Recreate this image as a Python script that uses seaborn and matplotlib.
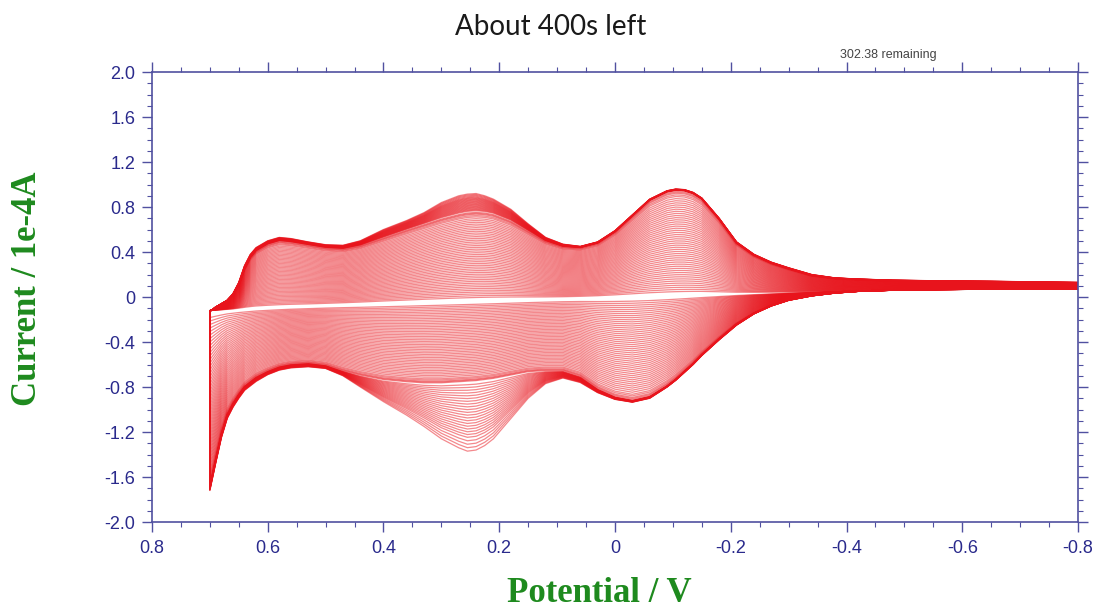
import numpy as np
import pandas as pd
import matplotlib
matplotlib.use("Agg")
import matplotlib.pyplot as plt
import seaborn as sns
from matplotlib.ticker import FixedLocator, FixedFormatter, MultipleLocator

# ---------------- data ----------------
potential = [0.700, 0.695, 0.690, 0.680, 0.670, 0.660, 0.650, 0.640, 0.630, 0.620,
             0.600, 0.580, 0.560, 0.530, 0.500, 0.470, 0.440, 0.400, 0.360, 0.330,
             0.300, 0.270, 0.255, 0.240, 0.225, 0.210, 0.180, 0.150, 0.120, 0.090,
             0.060, 0.030, 0.000, -0.030, -0.060, -0.090, -0.105, -0.120, -0.135, -0.150,
             -0.180, -0.210, -0.240, -0.270, -0.300, -0.340, -0.380, -0.420, -0.480, -0.550,
             -0.650, -0.800]

# innermost (almost flat) cycle: the white gap line
base_current = [-0.120, -0.119, -0.118, -0.116, -0.113, -0.111, -0.108, -0.106, -0.103, -0.100,
                -0.096, -0.092, -0.088, -0.083, -0.077, -0.071, -0.066, -0.059, -0.053, -0.048,
                -0.044, -0.040, -0.038, -0.036, -0.034, -0.032, -0.028, -0.024, -0.020, -0.016,
                -0.012, -0.008, -0.004, 0.000, 0.004, 0.008, 0.010, 0.012, 0.014, 0.016,
                0.020, 0.024, 0.028, 0.032, 0.036, 0.042, 0.048, 0.054, 0.063, 0.073,
                0.088, 0.107]

# outermost cycle, upper branch
upper_outer = [-0.125, -0.11, -0.09, -0.06, -0.03, 0.03, 0.13, 0.28, 0.38, 0.44,
               0.50, 0.53, 0.52, 0.49, 0.465, 0.46, 0.50, 0.60, 0.68, 0.75,
               0.84, 0.90, 0.915, 0.92, 0.90, 0.87, 0.78, 0.65, 0.53, 0.47,
               0.45, 0.49, 0.59, 0.73, 0.87, 0.945, 0.96, 0.955, 0.93, 0.88,
               0.70, 0.49, 0.38, 0.31, 0.26, 0.20, 0.17, 0.16, 0.15, 0.145,
               0.14, 0.13]

# edge of the dense band (most cycles), upper branch
upper_mid = [-0.125, -0.11, -0.09, -0.06, -0.03, 0.02, 0.11, 0.25, 0.35, 0.41,
             0.47, 0.50, 0.49, 0.465, 0.44, 0.43, 0.46, 0.53, 0.60, 0.65,
             0.70, 0.74, 0.755, 0.76, 0.755, 0.74, 0.68, 0.59, 0.50, 0.45,
             0.44, 0.48, 0.58, 0.72, 0.86, 0.935, 0.95, 0.945, 0.92, 0.87,
             0.69, 0.48, 0.37, 0.30, 0.25, 0.19, 0.165, 0.155, 0.145, 0.14,
             0.135, 0.125]

# outermost cycle, lower branch
lower_outer = [-1.72, -1.60, -1.48, -1.25, -1.08, -0.98, -0.90, -0.83, -0.79, -0.75,
               -0.69, -0.65, -0.63, -0.62, -0.635, -0.70, -0.80, -0.93, -1.05, -1.15,
               -1.26, -1.34, -1.37, -1.36, -1.32, -1.26, -1.08, -0.90, -0.77, -0.72,
               -0.76, -0.85, -0.91, -0.935, -0.90, -0.80, -0.74, -0.67, -0.60, -0.52,
               -0.38, -0.25, -0.15, -0.08, -0.03, 0.01, 0.035, 0.05, 0.06, 0.065,
               0.07, 0.07]

# edge of the dense band (most cycles), lower branch
lower_mid = [-1.68, -1.56, -1.44, -1.21, -1.04, -0.94, -0.86, -0.79, -0.75, -0.71,
             -0.66, -0.62, -0.60, -0.59, -0.61, -0.66, -0.70, -0.74, -0.76, -0.77,
             -0.77, -0.76, -0.755, -0.75, -0.74, -0.73, -0.70, -0.67, -0.66, -0.66,
             -0.71, -0.82, -0.89, -0.92, -0.885, -0.79, -0.73, -0.66, -0.59, -0.51,
             -0.37, -0.24, -0.145, -0.075, -0.025, 0.012, 0.036, 0.051, 0.061, 0.066,
             0.071, 0.071]

# growth of every recorded cycle: share of the dense band, share of the late growth
cycle_growth = [0.04, 0.06, 0.08, 0.10, 0.12, 0.14, 0.16, 0.18, 0.20,
                0.22, 0.24, 0.26, 0.28, 0.30, 0.32, 0.34, 0.36, 0.38, 0.40,
                0.42, 0.44, 0.46, 0.48, 0.50, 0.52, 0.54, 0.56, 0.58, 0.60,
                0.62, 0.64, 0.66, 0.68, 0.70, 0.72, 0.74, 0.76, 0.78, 0.80,
                0.82, 0.84, 0.86, 0.88, 0.90, 0.92, 0.94, 0.955, 0.97, 0.98,
                0.99,
                1.0, 1.0, 1.0, 1.0, 1.0, 1.0, 1.0, 1.0, 1.0, 1.0,
                1.0, 1.0, 1.0, 1.0, 1.0, 1.0, 1.0, 1.0, 1.0, 1.0,
                1.0, 1.0, 1.0, 1.0]
cycle_late = [0.0] * 50 + [0.04, 0.08, 0.12, 0.16, 0.20, 0.24, 0.28, 0.32, 0.36, 0.40,
                           0.44, 0.48, 0.52, 0.56, 0.60, 0.64, 0.68, 0.72, 0.76, 0.80,
                           0.85, 0.90, 0.95, 1.00]

x_ticks = [0.8, 0.6, 0.4, 0.2, 0.0, -0.2, -0.4, -0.6, -0.8]
x_tick_labels = ["0.8", "0.6", "0.4", "0.2", "0", "-0.2", "-0.4", "-0.6", "-0.8"]
y_ticks = [2.0, 1.6, 1.2, 0.8, 0.4, 0.0, -0.4, -0.8, -1.2, -1.6, -2.0]
y_tick_labels = ["2.0", "1.6", "1.2", "0.8", "0.4", "0", "-0.4", "-0.8", "-1.2", "-1.6", "-2.0"]

title_text = "About 400s left"
status_text = "302.38 remaining"
x_label = "Potential / V"
y_label = "Current / 1e-4A"

# ---------------- build table ----------------
E = np.array(potential)
base = np.array(base_current)
uo, um = np.array(upper_outer), np.array(upper_mid)
lo, lm = np.array(lower_outer), np.array(lower_mid)
rows = []
for k, (f, h) in enumerate(zip(cycle_growth, cycle_late)):
    up = base + f * (um - base) + h * (uo - um)
    dn = base + f * (lm - base) + h * (lo - lm)
    e_loop = np.concatenate([E, E[::-1], E[:1]])
    i_loop = np.concatenate([up, dn[::-1], up[:1]])
    for j, (e, i) in enumerate(zip(e_loop, i_loop)):
        rows.append((k, j, e, i))
df = pd.DataFrame(rows, columns=["cycle", "step", "E", "I"])

# ---------------- draw ----------------
sns.set_style("white")
plt.rcParams["font.family"] = ["Liberation Sans", "DejaVu Sans"]

fig = plt.figure(figsize=(10.98, 6.14), dpi=100)
ax = fig.add_axes([0.1384, 0.1498, 0.8434, 0.7329])

sns.lineplot(data=df, x="E", y="I", units="cycle", estimator=None, sort=False,
             color="#e8141c", linewidth=0.9, alpha=0.5, ax=ax, legend=False)

ax.set_xlim(0.8, -0.8)
ax.set_ylim(-2.0, 2.0)

spine_col = "#5050a0"
lab_col = "#2a2a8c"
for s in ax.spines.values():
    s.set_visible(True)
    s.set_color(spine_col)
    s.set_linewidth(1.2)

ax.xaxis.set_major_locator(FixedLocator(x_ticks))
ax.xaxis.set_major_formatter(FixedFormatter(x_tick_labels))
ax.yaxis.set_major_locator(FixedLocator(y_ticks))
ax.yaxis.set_major_formatter(FixedFormatter(y_tick_labels))
ax.xaxis.set_minor_locator(MultipleLocator(0.05))
ax.yaxis.set_minor_locator(MultipleLocator(0.1))
ax.tick_params(which="both", direction="out", top=True, right=True,
               bottom=True, left=True, color=spine_col, labelcolor=lab_col,
               labelsize=13)
ax.tick_params(which="major", length=7, width=1.0)
ax.tick_params(which="minor", length=3.5, width=0.8)
ax.tick_params(axis="x", which="major", pad=6)
ax.tick_params(axis="y", which="major", pad=5)
ax.set_xlabel("")
ax.set_ylabel("")

green = "#1e8a1e"
fig.text(0.5455, 1 - 594 / 614, x_label, ha="center", va="center",
         family=["Liberation Serif", "DejaVu Serif"], fontweight="bold",
         fontsize=25, color=green)
fig.text(0.0246, 1 - 289 / 614, y_label, ha="center", va="center", rotation=90,
         family=["Liberation Serif", "DejaVu Serif"], fontweight="bold",
         fontsize=25, color=green)
fig.text(551 / 1098, 1 - 27 / 614, title_text, ha="center", va="center",
         family=["Lato", "DejaVu Sans"], fontsize=20, color="#1a1a1a")
fig.text(888 / 1098, 1 - 55 / 614, status_text, ha="center", va="center",
         family=["Liberation Sans", "DejaVu Sans"], fontsize=9, color="#444444")

fig.savefig("out.png", dpi=100)
